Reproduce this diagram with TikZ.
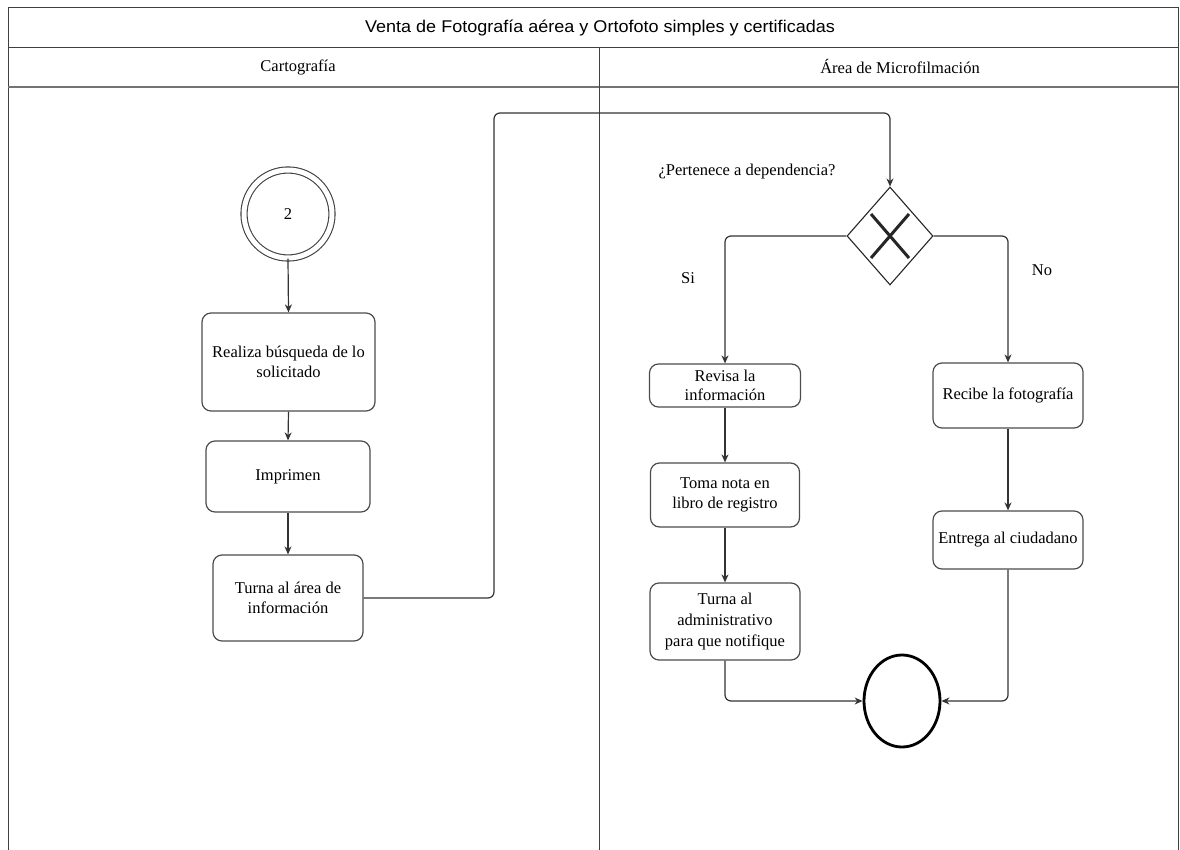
\documentclass[tikz,border=0pt]{standalone}
\usepackage{fontspec}
\setmainfont{Liberation Serif}
\newfontfamily\titlefont{Liberation Sans}
\usetikzlibrary{shapes.geometric,arrows.meta,calc}
\tikzset{
  frame/.style={draw=black!75, line width=1pt},
  box/.style={draw=black!70, line width=1.2pt, rounded corners=9pt, align=center, inner sep=1pt, font=\fontsize{16.5}{20}\selectfont},
  conn/.style={draw=black!80, line width=1.2pt, rounded corners=6pt, -{Stealth[length=8pt,width=7pt]}},
  lbl/.style={font=\fontsize{16.5}{20}\selectfont},
  hdr/.style={font=\fontsize{16.5}{20}\selectfont},
}
\begin{document}
\begin{tikzpicture}[x=1pt,y=-1pt]
\useasboundingbox (0,0) rectangle (1180,850);
% frame
\draw[frame] (8,850) -- (8,8) -- (1178,8) -- (1178,850);
\draw[frame] (8,48) -- (1178,48);
\draw[frame, line width=1.8pt, draw=black!55] (8,87) -- (1178,87);
\draw[frame] (599,48) -- (599,850);
\node[font=\titlefont\fontsize{17}{20}\selectfont] (title) at (600,28) {\scalebox{1.06}[1]{Venta de Fotografía aérea y Ortofoto simples y certificadas}};
\node[hdr] (h1) at (298,67) {Cartografía};
\node[hdr] (h2) at (900,67) {Área de Microfilmación};

% left lane
\node[draw=black!75, line width=1.1pt, circle, double, double distance=5pt, minimum size=88pt, inner sep=0pt, font=\fontsize{16.5}{20}\selectfont] (s) at (288,214) {2};
\node[box, minimum width=173pt, minimum height=98pt] (b1) at (288.5,362) {Realiza búsqueda de lo\\solicitado};
\node[box, minimum width=164pt, minimum height=71pt] (b2) at (288,476.5) {Imprimen};
\node[box, minimum width=150pt, minimum height=86pt] (b3) at (288,598) {Turna al área de\\información};

% right lane
\node[diamond, draw=black!85, line width=1.1pt, minimum width=86pt, minimum height=98pt, inner sep=0pt] (d) at (890,236) {};
\draw[line width=3pt, black!85] ($(d.center)+(-19,-22)$) -- ($(d.center)+(19,22)$);
\draw[line width=3pt, black!85] ($(d.center)+(19,-22)$) -- ($(d.center)+(-19,22)$);
\node[lbl] (q) at (747,172) {¿Pertenece a dependencia?};
\node[lbl] (si) at (688,278) {Si};
\node[lbl] (no) at (1042,270) {No};

\node[box, minimum width=151pt, minimum height=43pt, inner sep=0pt, font=\fontsize{16.5}{19}\selectfont] (rev) at (725,385.5) {Revisa la\\información};
\node[box, minimum width=149pt, minimum height=64pt] (toma) at (725,495) {Toma nota en\\libro de registro};
\node[box, minimum width=150pt, minimum height=77pt, inner sep=0pt, font=\fontsize{16.5}{21}\selectfont] (adm) at (725,621.5) {Turna al\\administrativo\\para que notifique};
\node[box, minimum width=150pt, minimum height=65pt] (rec) at (1008,395.5) {Recibe la fotografía};
\node[box, minimum width=150pt, minimum height=58pt] (ent) at (1008,540) {Entrega al ciudadano};
\node[ellipse, draw=black, line width=2.8pt, minimum width=76pt, minimum height=92pt, inner sep=0pt] (e) at (902,701) {};

% connectors
\draw[conn] (s.south) -- (b1.north);
\draw[conn] (b1.south) -- (b2.north);
\draw[conn] (b2.south) -- (b3.north);
\draw[conn] (b3.east) -| (494,113) -| (d.north);
\draw[conn] (d.west) -| (rev.north);
\draw[conn] (d.east) -| (rec.north);
\draw[conn] (rev.south) -- (toma.north);
\draw[conn] (toma.south) -- (adm.north);
\draw[conn] (rec.south) -- (ent.north);
\draw[conn] (adm.south) |- (e.west);
\draw[conn] (ent.south) |- (e.east);
\end{tikzpicture}
\end{document}
